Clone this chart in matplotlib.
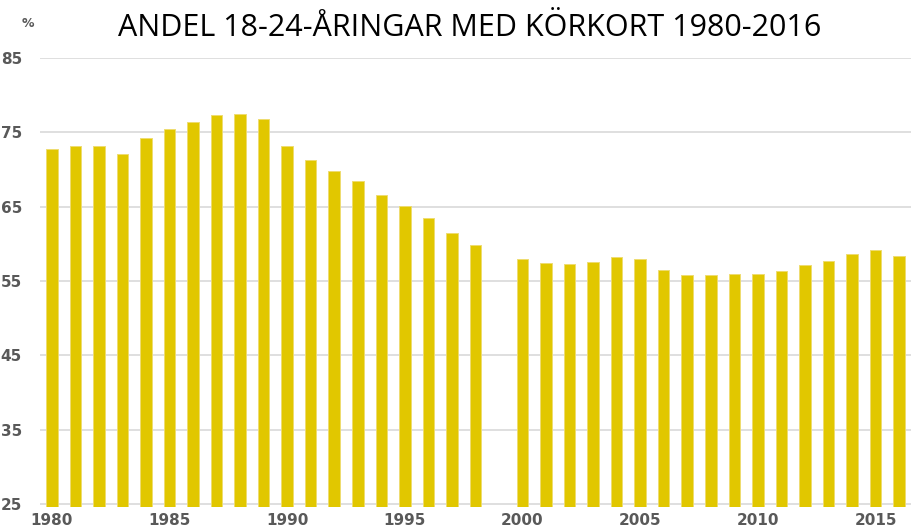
import numpy as np
import matplotlib.pyplot as plt

# Andel 18-24-åringar med körkort (%), 1999 saknas
years = [1980, 1981, 1982, 1983, 1984, 1985, 1986, 1987, 1988, 1989,
         1990, 1991, 1992, 1993, 1994, 1995, 1996, 1997, 1998,
         2000, 2001, 2002, 2003, 2004, 2005, 2006, 2007, 2008, 2009,
         2010, 2011, 2012, 2013, 2014, 2015, 2016]
share = [72.7, 73.1, 73.2, 72.0, 74.2, 75.4, 76.4, 77.3, 77.5, 76.7,
         73.2, 71.3, 69.8, 68.5, 66.6, 65.1, 63.5, 61.4, 59.9,
         57.9, 57.4, 57.3, 57.6, 58.2, 58.0, 56.5, 55.85, 55.85, 55.9,
         56.0, 56.4, 57.2, 57.7, 58.6, 59.1, 58.4]
yticks = [25, 35, 45, 55, 65, 75, 85]
xticks = [1980, 1985, 1990, 1995, 2000, 2005, 2010, 2015]

base = 24.65

fig = plt.figure(figsize=(9.12, 5.29), dpi=100)
ax = fig.add_axes([0.0439, 0.0416, 0.9561, 0.8494])

ax.bar(years, np.array(share) - base, bottom=base, width=0.49,
       color='#E1C700', edgecolor='#EEDC70', linewidth=0.7, zorder=3)

ax.set_xlim(1979.5, 2016.55)
ax.set_ylim(base, 85)
ax.set_yticks(yticks)
ax.set_xticks(xticks)
ax.grid(axis='y', color='#D9D9D9', linewidth=1.2, zorder=0)
ax.tick_params(length=0, labelsize=11, colors='#595959', pad=6)
for lbl in ax.get_xticklabels() + ax.get_yticklabels():
    lbl.set_fontweight('bold')
ax.tick_params(axis='y', pad=13)
ax.tick_params(axis='x', pad=4)
for s in ax.spines.values():
    s.set_visible(False)

fig.text(0.515, 0.947, 'ANDEL 18-24-ÅRINGAR MED KÖRKORT 1980-2016',
         ha='center', va='center', fontsize=22, family='Open Sans', color='black')
fig.text(0.031, 0.955, '%', ha='center', va='center', fontsize=9,
         fontweight='bold', color='#595959')

fig.savefig('out.png', dpi=100)
